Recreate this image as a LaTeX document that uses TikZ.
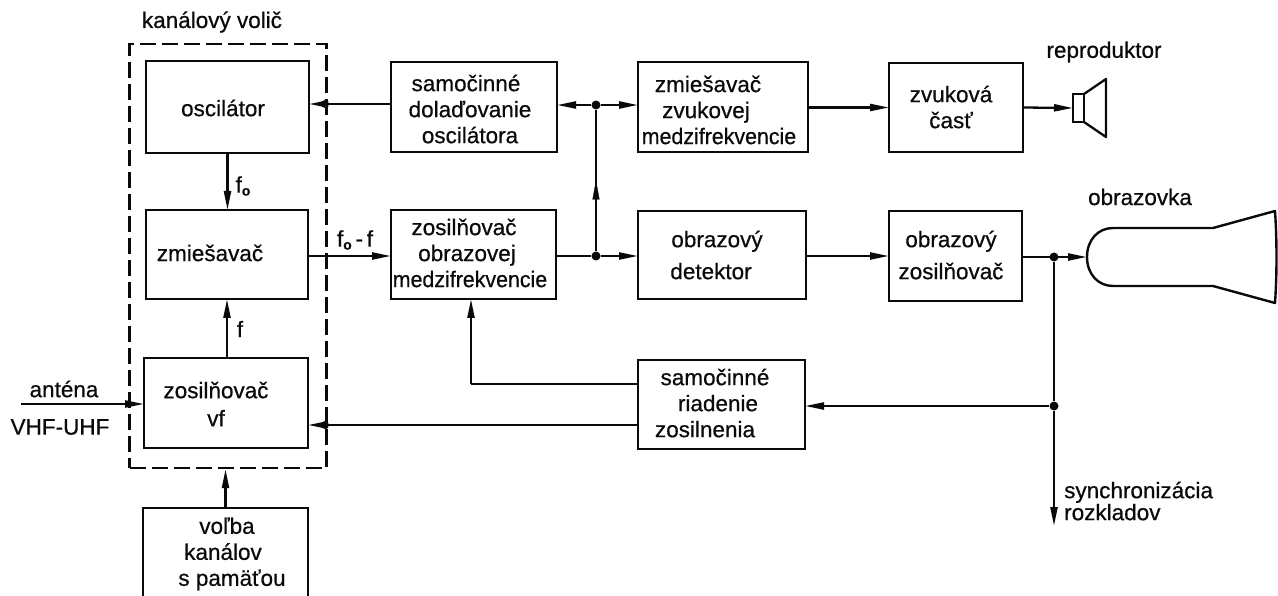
\documentclass[tikz,border=0pt]{standalone}
\usepackage{fontspec}
\setmainfont{Liberation Sans}[FakeBold=0.6]
\usetikzlibrary{arrows.meta,decorations.markings}
\tikzset{
  x=1pt,y=-1pt,
  box/.style={draw=ink,line width=2.5pt,inner sep=0pt,outer sep=0pt},
  txt/.style={font=\fontsize{22.5}{26}\selectfont,text=ink,align=center,inner sep=0pt},
  ltxt/.style={txt,align=left},
  conn/.style={draw=ink,line width=2.3pt},
  arr/.style={conn,-{Triangle[length=19pt,width=7pt]}},
  dot/.style={circle,fill=ink,inner sep=0pt,minimum size=#1},
  dot/.default=9pt,
}
\definecolor{ink}{RGB}{10,10,10}
\newcommand{\fnull}{f{\fontsize{14}{14}\selectfont\raisebox{-3pt}{\textbf{o}}}}
\newcommand{\sh}[1]{\hspace*{#1pt}}
\newcommand{\medz}{\scalebox{.95}[1]{medzifrekvencie}}
\begin{document}
\begin{tikzpicture}
\useasboundingbox (0,0) rectangle (1278,596);
\clip (0,0) rectangle (1278,596);
% boxes
\node[box,minimum width=163pt,minimum height=92pt] (osc) at (227.5,107) {};
\node[box,minimum width=162pt,minimum height=89pt] (mix) at (227,254.5) {};
\node[box,minimum width=164pt,minimum height=90pt] (vf) at (226,403) {};
\node[box,minimum width=165pt,minimum height=102pt] (volba) at (225.5,559) {};
\node[box,minimum width=166pt,minimum height=90pt] (afc) at (474,107) {};
\node[box,minimum width=165pt,minimum height=89pt] (if) at (473.5,254.5) {};
\node[box,minimum width=170pt,minimum height=90pt] (sif) at (723,107) {};
\node[box,minimum width=168pt,minimum height=88pt] (det) at (722,255) {};
\node[box,minimum width=167pt,minimum height=89pt] (agc) at (721.5,404.5) {};
\node[box,minimum width=134pt,minimum height=89pt] (snd) at (956,107.5) {};
\node[box,minimum width=133pt,minimum height=90pt] (vid) at (955.5,256) {};
\node[draw=ink,line width=2.4pt,dash pattern=on 16pt off 6pt,inner sep=0pt,minimum width=197pt,minimum height=424pt] (kv) at (228,256) {};
% speaker
\node[box,line width=2.1pt,minimum width=11pt,minimum height=28pt] (spk) at (1078.5,108) {};
\coordinate (coneT) at (1106,79);
\coordinate (coneB) at (1106,137);
\draw[conn,line join=round] (spk.north east) -- (coneT) -- (coneB) -- (spk.south east);
% picture tube
\coordinate (crt) at (1087,257);
\coordinate (crtTa) at (1113,228);
\coordinate (crtTb) at (1213,228);
\coordinate (crtTc) at (1275,211);
\coordinate (crtBc) at (1275,303);
\coordinate (crtBb) at (1213,286);
\coordinate (crtBa) at (1113,286);
\draw[conn,line width=2.4pt,line join=round] (crt) .. controls (1087,240) and (1098,228) .. (crtTa) -- (crtTb) -- (crtTc)
  .. controls (1277,240) and (1277,275) .. (crtBc) -- (crtBb) -- (crtBa) .. controls (1098,286) and (1087,274) .. (crt);
% junctions
\node[dot] (j1) at (596,105) {};
\node[dot] (j2) at (596,256) {};
\node[dot] (j3) at (1054,257) {};
\node[dot] (j4) at (1054,406) {};
\node[dot=8pt] (d1) at (325,104) {};
\node[dot=8pt] (d2) at (325,425) {};
\coordinate (bendL) at (471,384);
\coordinate (antL) at (21,404);
\coordinate (syncE) at (1054,526);
% connectors
\draw[arr] (afc.west |- d1) -- (d1) -- (osc.east |- d1);
\draw[arr] (j1) -- (afc.east |- j1);
\draw[arr] (j1) -- (sif.west |- j1);
\draw[conn] (j2) -- (j1);
\path[postaction={decorate},decoration={markings,mark=at position 0.5 with {\arrow[ink]{Triangle[length=19pt,width=7pt]}}}] (j2) -- (j1);
\draw[arr] (mix.east |- j2) -- (if.west |- j2);
\draw[conn] (if.east |- j2) -- (j2);
\draw[arr] (j2) -- (det.west |- j2);
\draw[arr] (det.east |- j2) -- (vid.west |- j2);
\draw[arr] (vid.east |- j3) -- (crt);
\draw[arr] (sif.east |- snd) -- (snd.west);
\draw[arr] (snd.east) -- (spk.west);
\draw[arr] (j4) -- (agc.east |- j4);
\draw[conn] (j3) -- (j4);
\draw[arr] (j4) -- (syncE);
\draw[conn] (agc.west |- bendL) -- (bendL);
\draw[arr] (bendL) -- (bendL |- if.south);
\draw[arr] (agc.west |- d2) -- (vf.east |- d2);
\draw[arr] (antL) -- (vf.west |- antL);
\draw[arr] (osc.south) -- (osc.south |- mix.north);
\draw[arr] (mix.south |- vf.north) -- (mix.south);
\draw[arr] (volba.north) -- (volba.north |- kv.south);
% texts
\node[txt] (t1) at (223,108) {oscilátor};
\node[txt] (t2) at (210,253) {zmiešavač};
\node[txt] (t3) at (216,404) {zosilňovač\\[2pt]vf};
\node[txt] (t4) at (227,554) {voľba\\\sh{-8}kanálov\\\sh{10}s pamäťou};
\node[txt] (t5) at (470,109) {\sh{-8}samočinné\\dolaďovanie\\oscilátora};
\node[txt] (t6) at (470,253) {\sh{-12}zosilňovač\\\sh{-6}obrazovej\\\medz};
\node[txt] (t7) at (719,110) {\sh{-22}zmiešavač\\\sh{-26}zvukovej\\\medz};
\node[txt] (t8) at (951,107) {zvuková\\časť};
\node[txt] (t9) at (714,255) {\sh{6}obrazový\\[6pt]\sh{-6}detektor};
\node[txt] (t10) at (951,255) {obrazový\\[6pt]zosilňovač};
\node[txt] (t11) at (710,403) {\sh{10}samočinné\\\sh{16}riadenie\\\sh{-10}zosilnenia};
\node[txt] (t12) at (212,22) {kanálový volič};
\node[txt] (t13) at (1104,52) {reproduktor};
\node[txt] (t14) at (1140,197) {obrazovka};
\node[txt] (t15) at (64,389) {anténa};
\node[txt] (t16) at (60,427) {VHF-UHF};
\node[txt] (t17) at (243,186) {\fnull};
\node[txt] (t18) at (355,240) {\fnull\,-\,f};
\node[txt] (t19) at (240,329) {f};
\node[ltxt,anchor=west] (t20) at (1064,501) {synchronizácia\\[-4pt]rozkladov};
\end{tikzpicture}
\end{document}
